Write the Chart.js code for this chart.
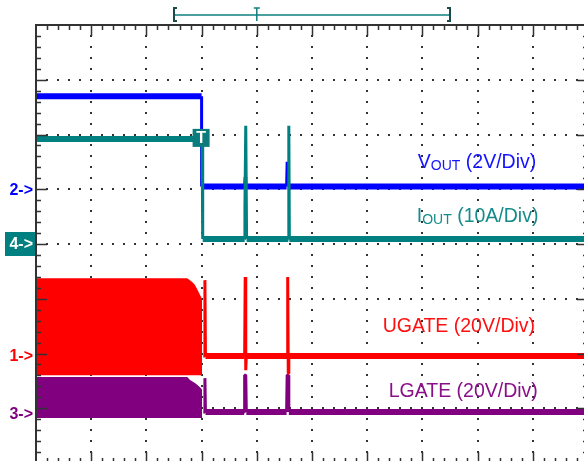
<!DOCTYPE html>
<html>
<head>
<meta charset="utf-8">
<title>Scope capture</title>
<script src="https://cdn.jsdelivr.net/npm/chart.js@4.4.0/dist/chart.umd.min.js"></script>
<style>
  html, body { margin: 0; padding: 0; background: #fff; overflow: hidden; }
  canvas { display: block; }
</style>
</head>
<body>
<canvas id="scope" width="600" height="475"></canvas>
<script>
// time axis is in screen divisions (10 across), trigger at 3.0
const triggerTime = 3.0;
const triggerLevel = 19.2; // A, on CH4

// CH2 - VOUT (V)
const voutT = [0, 3.0, 3.0, 3.78, 3.79, 3.80, 4.54, 4.55, 4.56, 10];
const vout  = [3.4, 3.4, 0.1, 0.1, 0.45, 0.1, 0.1, 1.0, 0.1, 0.1];

// CH4 - IOUT (A)
const ioutT = [0, 3.01, 3.02, 3.78, 3.785, 3.80, 3.815, 4.57, 4.58, 4.59, 10];
const iout  = [19.2, 19.2, 0.9, 0.9, 6.8, 21.6, 0.9, 0.9, 21.6, 0.9, 0.9];

// CH1 - UGATE (V): switching envelope before the fault, then the trace after it
const ugateEnvT   = [0, 2.74, 2.83, 2.88, 2.93, 2.99, 3.01];
const ugateEnvTop = [28.1, 28.1, 26.7, 25.6, 23.7, 21.2, 20.5];
const ugateEnvLow = -7.3;
const ugateT = [3.03, 3.05, 3.06, 3.07, 3.78, 3.79, 3.80, 3.81, 4.55, 4.56, 4.57, 4.58, 10];
const ugate  = [-0.3, -0.3, 27.4, -0.3, -0.3, 28.5, -5.5, -0.3, -0.3, 28.5, -6.6, -0.3, -0.3];

// CH3 - LGATE (V)
const lgateEnvT   = [0, 2.74, 2.79, 2.88, 2.93, 2.99, 3.01];
const lgateEnvTop = [13.2, 13.2, 12.1, 11.0, 10.2, 9.1, 8.5];
const lgateEnvLow = -1.8;
const lgateT = [3.03, 3.05, 3.06, 3.07, 3.77, 3.78, 3.80, 3.81, 4.54, 4.55, 4.57, 4.58, 10];
const lgate  = [0.4, 0.4, 12.8, 0.4, 0.4, 13.9, 13.9, 0.4, 0.4, 13.9, 13.9, 0.4, 0.4];

// channel setup: units per division and ground marker position (div from bottom)
const channels = {
  yU: { perDiv: 20, ref: 1.97, mark: '1->', color: '#ff0000' },
  yV: { perDiv: 2,  ref: 5.0,  mark: '2->', color: '#0000ff' },
  yL: { perDiv: 20, ref: 0.91, mark: '3->', color: '#800080' },
  yI: { perDiv: 10, ref: 4.0,  mark: '4->', color: '#008080', boxed: true }
};

const labels = [
  { main: 'V', sub: 'OUT', rest: ' (2V/Div)',   x: 7.99, y: 5.39, color: '#1414ff' },
  { main: 'I', sub: 'OUT', rest: ' (10A/Div)',  x: 8.0,  y: 4.40, color: '#168b8b' },
  { main: 'UGATE (20V/Div)', sub: '', rest: '', x: 7.66, y: 2.39, color: '#ff1010' },
  { main: 'LGATE (20V/Div)', sub: '', rest: '', x: 7.74, y: 1.20, color: '#8a108a' }
];

const FONT = '"Liberation Sans", Arial, sans-serif';

function zip(t, v) {
  return t.map((x, i) => ({ x: x, y: v[i] }));
}

// spikes and edges are thin, the flat parts of a trace are thick
function traceWidth(ctx) {
  return Math.abs(ctx.p1.parsed.x - ctx.p0.parsed.x) < 0.05 ? 3 : 6;
}

const scales = {
  x: { type: 'linear', min: 0, max: 10, display: false },
  yDiv: { type: 'linear', min: 0, max: 8, display: false }
};
Object.keys(channels).forEach(id => {
  const c = channels[id];
  scales[id] = { type: 'linear', display: false, min: -c.ref * c.perDiv, max: (8 - c.ref) * c.perDiv };
});

const scopePlugin = {
  id: 'scope',
  beforeDatasetsDraw(chart) {
    const ctx = chart.ctx, x = chart.scales.x, y = chart.scales.yDiv;
    ctx.save();
    ctx.fillStyle = '#333';
    for (let i = 1; i < 10; i++) {
      const px = Math.round(x.getPixelForValue(i));
      for (let j = 0; j <= 40; j++) {
        const py = Math.round(y.getPixelForValue(j * 0.2));
        ctx.fillRect(px - 1, py - 1, 2, 2);
      }
    }
    for (let j = 1; j < 8; j++) {
      const py = Math.round(y.getPixelForValue(j));
      for (let i = 0; i <= 50; i++) {
        const px = Math.round(x.getPixelForValue(i * 0.2));
        ctx.fillRect(px - 1, py - 1, 2, 2);
      }
    }
    ctx.restore();
  },
  afterDatasetsDraw(chart) {
    const ctx = chart.ctx, a = chart.chartArea;
    const x = chart.scales.x, y = chart.scales.yDiv;
    ctx.save();

    // frame + ticks
    ctx.strokeStyle = '#333';
    ctx.lineWidth = 2;
    ctx.strokeRect(a.left, a.top, a.right - a.left, a.bottom - a.top);
    ctx.lineWidth = 1.5;
    ctx.beginPath();
    for (let k = 1; k < 50; k++) {
      const px = Math.round(x.getPixelForValue(k * 0.2)) + 0.5;
      const len = k % 5 === 0 ? 11 : 5;
      ctx.moveTo(px, a.top); ctx.lineTo(px, a.top + len);
      ctx.moveTo(px, a.bottom); ctx.lineTo(px, a.bottom - len);
    }
    for (let k = 1; k < 40; k++) {
      const py = Math.round(y.getPixelForValue(k * 0.2)) + 0.5;
      const len = k % 5 === 0 ? 11 : 5;
      ctx.moveTo(a.left, py); ctx.lineTo(a.left + len, py);
      ctx.moveTo(a.right, py); ctx.lineTo(a.right - len, py);
    }
    ctx.stroke();

    // ground markers
    ctx.font = 'bold 16px ' + FONT;
    ctx.textAlign = 'right';
    ctx.textBaseline = 'middle';
    Object.keys(channels).forEach(id => {
      const c = channels[id];
      const py = chart.scales[id].getPixelForValue(0);
      if (c.boxed) {
        ctx.fillStyle = c.color;
        ctx.fillRect(a.left - 31, py - 12, 30, 24);
        ctx.fillStyle = '#fff';
      } else {
        ctx.fillStyle = c.color;
      }
      ctx.fillText(c.mark, a.left - 3, py + 1);
    });

    // trigger marker
    const tx = x.getPixelForValue(triggerTime);
    const ty = chart.scales.yI.getPixelForValue(triggerLevel);
    ctx.fillStyle = '#0b7b7b';
    ctx.fillRect(tx - 9, ty - 10, 17, 18);
    ctx.fillStyle = '#fff';
    ctx.font = 'bold 16px ' + FONT;
    ctx.textAlign = 'center';
    ctx.fillText('T', tx - 0.5, ty);

    // record window bracket on top
    const by = a.top - 10;
    const bl = x.getPixelForValue(2.5), bt = x.getPixelForValue(4.0), br = x.getPixelForValue(7.5);
    ctx.strokeStyle = '#118080';
    ctx.lineWidth = 1.5;
    ctx.beginPath();
    ctx.moveTo(bl, by); ctx.lineTo(br, by);
    ctx.moveTo(bt, by - 7); ctx.lineTo(bt, by + 6);
    ctx.moveTo(bt - 3, by - 7); ctx.lineTo(bt + 3, by - 7);
    ctx.stroke();
    ctx.strokeStyle = '#1a4a4a';
    ctx.lineWidth = 2;
    ctx.beginPath();
    ctx.moveTo(bl + 3, by - 7); ctx.lineTo(bl, by - 7); ctx.lineTo(bl, by + 6); ctx.lineTo(bl + 3, by + 6);
    ctx.moveTo(br - 3, by - 7); ctx.lineTo(br, by - 7); ctx.lineTo(br, by + 6); ctx.lineTo(br - 3, by + 6);
    ctx.stroke();

    // trace labels
    ctx.textAlign = 'left';
    ctx.textBaseline = 'alphabetic';
    labels.forEach(l => {
      const big = '19.5px ' + FONT, small = '14px ' + FONT;
      ctx.font = big;
      const w1 = ctx.measureText(l.main).width, w3 = ctx.measureText(l.rest).width;
      ctx.font = small;
      const w2 = l.sub ? ctx.measureText(l.sub).width : 0;
      let px = x.getPixelForValue(l.x) - (w1 + w2 + w3) / 2;
      const py = y.getPixelForValue(l.y);
      ctx.fillStyle = l.color;
      ctx.font = big;
      ctx.fillText(l.main, px, py);
      px += w1;
      if (l.sub) {
        ctx.font = small;
        ctx.fillText(l.sub, px, py + 2);
        px += w2;
      }
      ctx.font = big;
      ctx.fillText(l.rest, px, py);
    });
    ctx.restore();
  }
};

Chart.defaults.font.family = FONT;

new Chart(document.getElementById('scope'), {
  type: 'scatter',
  data: {
    datasets: [
      {
        label: 'IOUT', yAxisID: 'yI', data: zip(ioutT, iout),
        showLine: true, borderColor: '#008080', borderWidth: 6, pointRadius: 0,
        borderJoinStyle: 'bevel', segment: { borderWidth: traceWidth }
      },
      {
        label: 'VOUT', yAxisID: 'yV', data: zip(voutT, vout),
        showLine: true, borderColor: '#0000ff', borderWidth: 6, pointRadius: 0,
        borderJoinStyle: 'bevel', segment: { borderWidth: traceWidth }
      },
      {
        label: 'UGATE', yAxisID: 'yU', data: zip(ugateT, ugate),
        showLine: true, borderColor: '#ff0000', borderWidth: 6, pointRadius: 0,
        borderJoinStyle: 'bevel', segment: { borderWidth: traceWidth }
      },
      {
        label: 'LGATE', yAxisID: 'yL', data: zip(lgateT, lgate),
        showLine: true, borderColor: '#800080', borderWidth: 6, pointRadius: 0,
        borderJoinStyle: 'bevel', segment: { borderWidth: traceWidth }
      },
      {
        label: 'UGATE switching', yAxisID: 'yU', data: zip(ugateEnvT, ugateEnvTop),
        showLine: true, borderWidth: 0, borderColor: '#ff0000', pointRadius: 0,
        backgroundColor: '#ff0000', fill: { value: ugateEnvLow }
      },
      {
        label: 'LGATE switching', yAxisID: 'yL', data: zip(lgateEnvT, lgateEnvTop),
        showLine: true, borderWidth: 0, borderColor: '#800080', pointRadius: 0,
        backgroundColor: '#800080', fill: { value: lgateEnvLow }
      }
    ]
  },
  options: {
    responsive: false,
    animation: false,
    devicePixelRatio: 1,
    layout: { padding: { left: 36, top: 25, right: 12, bottom: 12 } },
    scales: scales,
    plugins: { legend: { display: false }, tooltip: { enabled: false } }
  },
  plugins: [scopePlugin]
});
</script>
</body>
</html>
